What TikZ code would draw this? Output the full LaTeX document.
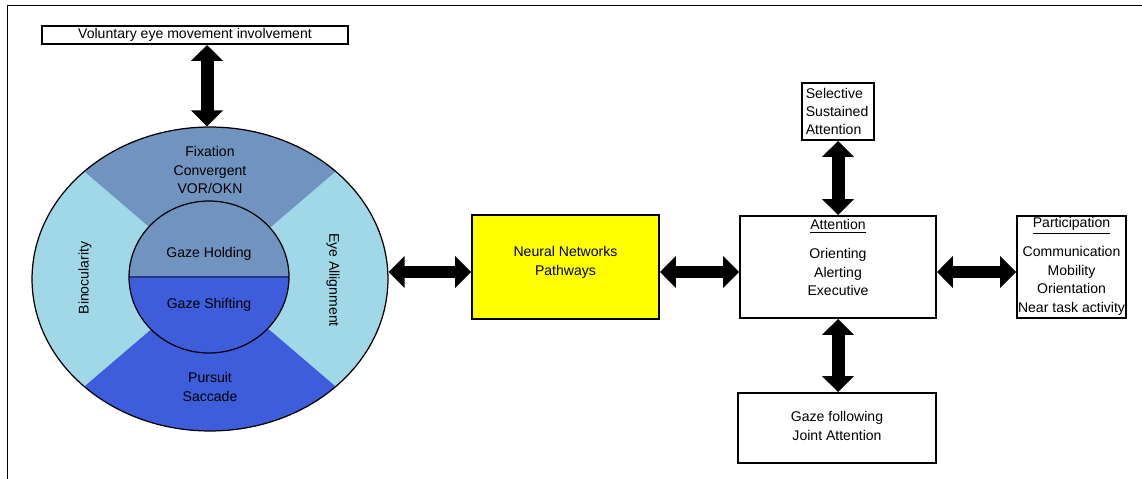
\documentclass[tikz,border=0pt]{standalone}
\usepackage{fontspec}
\setmainfont{Liberation Sans}
\usetikzlibrary{arrows.meta,shapes.geometric}
\definecolor{steel}{RGB}{112,147,192}
\definecolor{pale}{RGB}{160,216,232}
\definecolor{royal}{RGB}{61,93,219}
\definecolor{lemon}{RGB}{255,255,0}
\begin{document}
\begin{tikzpicture}[x=0.02cm,y=-0.02cm,
  every node/.style={font=\fontsize{8}{10.5}\selectfont, inner sep=0pt},
  box/.style={draw, line width=1.1pt, rectangle},
  txt/.style={align=center},
  dbl/.style={line width=0.26cm, >={Triangle[length=0.32cm,width=0.62cm]}, <->}]
\useasboundingbox (0,0) rectangle (1142,479);

% page frame
\draw[line width=1.1pt] (7.5,479) -- (7.5,5.5) -- (1142,5.5);

% outer ring with its four sectors
\begin{scope}
  \clip (210,279) ellipse [x radius=178, y radius=152];
  \fill[pale] (20,120) rectangle (400,440);
  \fill[steel] (210,279) -- (-40,65) -- (460,65) -- cycle;
  \fill[royal] (210,279) -- (-40,493) -- (460,493) -- cycle;
\end{scope}
\node[ellipse, draw, line width=0.7pt, minimum width=7.12cm, minimum height=6.08cm] (eye) at (210,279) {};

% inner disc split in two halves
\begin{scope}
  \clip (209,277) ellipse [x radius=80, y radius=76];
  \fill[steel] (120,190) rectangle (300,277);
  \fill[royal] (120,277) rectangle (300,360);
  \draw[line width=0.6pt, royal!60!black] (120,277) -- (300,277);
\end{scope}
\node[ellipse, draw, line width=0.7pt, minimum width=3.2cm, minimum height=3.04cm] (core) at (209,277) {};

% ring labels
\node[txt] (fix) at (210,170) {Fixation\\Convergent\\VOR/OKN};
\node[txt] (hold) at (209,254) {Gaze Holding};
\node[txt] (shift) at (209,305) {Gaze Shifting};
\node[txt] (purs) at (210,387) {Pursuit\\Saccade};
\node[rotate=90] (bino) at (85,278) {Binocularity};
\node[rotate=-90] (align) at (333,280) {Eye Allignment};

% boxes
\node[box, minimum width=6.12cm, minimum height=0.36cm] (vol) at (195,35) {Voluntary eye movement involvement};
\node[box, fill=lemon, minimum width=3.74cm, minimum height=2.08cm] (neural) at (565.5,267) {};
\node[txt] (neuraltxt) at (565.5,262.5) {Neural Networks\\Pathways};

\node[box, minimum width=3.92cm, minimum height=2.04cm] (att) at (838,267) {};
\node (atthead) at (838,226) {\underline{Attention}};
\node[txt] (atttxt) at (838,272) {Orienting\\Alerting\\Executive};

\node[box, minimum width=1.44cm, minimum height=1.14cm] (sel) at (838,111.5) {};
\node[align=left, anchor=west] (seltxt) at (805.5,111.5) {Selective\\Sustained\\Attention};

\node[box, minimum width=2.18cm, minimum height=2.04cm] (part) at (1071.5,267) {};
\node (parthead) at (1071.5,226) {\underline{Participation}};
\node[txt] (parttxt) at (1071.5,281) {Communication\\Mobility\\Orientation\\Near task activity};

\node[box, minimum width=3.96cm, minimum height=1.4cm] (gaze) at (837,428) {};
\node[txt] (gazetxt) at (837,426) {Gaze following\\Joint Attention};

% connectors
\coordinate (row) at (0,272);
\coordinate (col) at (207,0);
\draw[dbl] (vol.south -| col) -- (eye.north -| col);
\draw[dbl] (eye.east |- row) -- (neural.west |- row);
\draw[dbl] (neural.east |- row) -- (att.west |- row);
\draw[dbl] (att.east |- row) -- (part.west |- row);
\draw[dbl] (sel.south) -- (att.north);
\draw[dbl] (att.south) -- (att.south |- gaze.north);
\end{tikzpicture}
\end{document}
